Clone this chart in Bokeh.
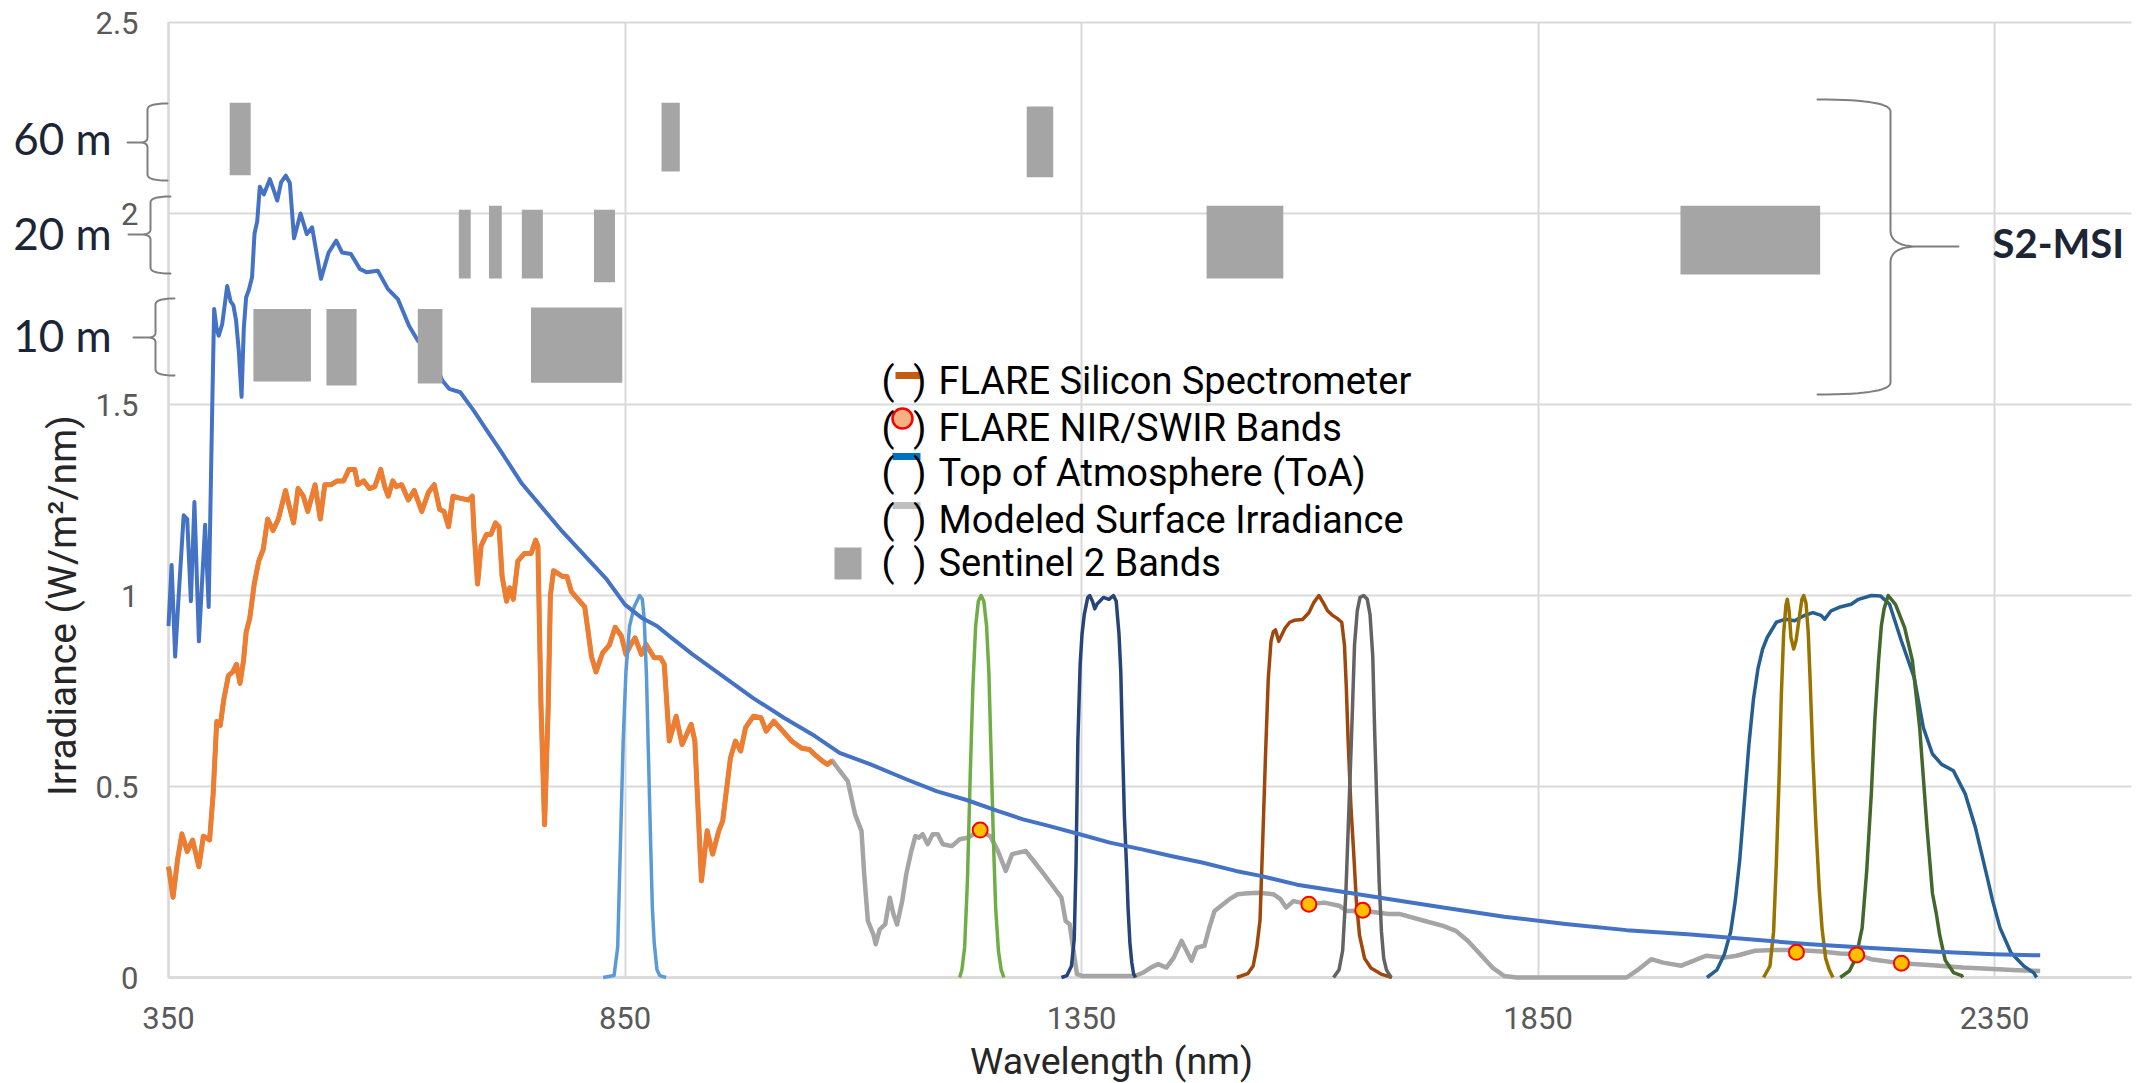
import numpy as np
from bokeh.plotting import figure
from bokeh.models import Range1d, FixedTicker, NumeralTickFormatter, Label, PolyAnnotation, Grid
from bokeh.embed import file_html
from bokeh.resources import INLINE

# ---------------- data ----------------
x_ticks = [350, 850, 1350, 1850, 2350]
y_ticks = [0, 0.5, 1, 1.5, 2, 2.5]

# Top of Atmosphere (ToA) irradiance
toa_nm = [350, 353.4, 357.3, 360.8, 366.6, 370.5, 374.5, 378.4, 383.3, 390.1,
          394, 397.8, 400, 402.6, 405, 408.8, 414.3, 418, 421, 424,
          427, 430, 432.5, 435, 438, 441.5, 444.2, 447.2, 450, 454.4,
          461, 465.4, 469.1, 473.4, 478.5, 482.9, 487.5, 494.6, 501.5, 507.3,
          517, 525.4, 533.7, 540, 549.8, 559.6, 566.9, 579.2, 590.4, 601.2,
          613.4, 623.2, 635.2, 650.1, 657.4, 669.6, 684.3, 699, 713.6, 737,
          781.5, 830, 850, 868, 885, 901, 924, 957, 990, 1024,
          1058, 1085, 1119, 1158, 1191, 1225, 1258, 1286, 1314, 1348,
          1381, 1415, 1448, 1482, 1519, 1546, 1586, 1639, 1679, 1746,
          1813, 1880, 1947, 2014, 2081, 2148, 2215, 2282, 2349, 2400]
toa_val = [0.92, 1.08, 0.84, 0.985, 1.21, 1.20, 0.985, 1.245, 0.88, 1.185,
           0.97, 1.48, 1.75, 1.70, 1.68, 1.71, 1.81, 1.77, 1.76, 1.72,
           1.64, 1.52, 1.70, 1.78, 1.80, 1.833, 1.947, 1.98, 2.07, 2.05,
           2.09, 2.06, 2.034, 2.082, 2.099, 2.08, 1.935, 2.0, 1.946, 1.964,
           1.829, 1.898, 1.929, 1.898, 1.894, 1.855, 1.846, 1.85, 1.802, 1.776,
           1.706, 1.667, 1.641, 1.562, 1.541, 1.532, 1.484, 1.431, 1.379, 1.293,
           1.167, 1.042, 0.976, 0.942, 0.92, 0.889, 0.846, 0.789, 0.732, 0.68,
           0.632, 0.588, 0.558, 0.519, 0.488, 0.464, 0.436, 0.414, 0.397, 0.375,
           0.353, 0.336, 0.318, 0.301, 0.279, 0.266, 0.243, 0.223, 0.208, 0.183,
           0.159, 0.14, 0.124, 0.113, 0.10, 0.087, 0.077, 0.068, 0.061, 0.058]

# FLARE Silicon Spectrometer
si_nm = [350, 355, 360, 364.7, 370.5, 376.4, 383.3, 388.2, 395, 398.9,
         402.8, 406.7, 410.7, 415.6, 420.4, 424.4, 428.3, 432.2, 435.1, 439,
         443.9, 448.8, 453.7, 458.6, 464.5, 470.3, 478.2, 482.1, 487, 491.9,
         497.7, 502.6, 510.5, 516.3, 521.2, 528.1, 534.9, 541.8, 547.6, 554,
         557.4, 563.8, 570.1, 576, 582.4, 586.8, 590.7, 595.6, 599.5, 605.4,
         612.7, 619.1, 627.4, 634.7, 641.1, 647, 651.8, 656.7, 661.6, 669,
         678.7, 682.7, 684.6, 688.5, 692.4, 698.3, 703.2, 708.1, 712, 715.4,
         720.3, 723.7, 727.7, 732.6, 739.9, 747.2, 752.1, 754.6, 758, 761.9,
         765.8, 768.3, 771.7, 781.5, 786.4, 791.3, 798.6, 805.9, 813.3, 818.2,
         825.5, 832.8, 839.2, 846, 851, 856, 861, 868, 873, 882,
         889, 893, 898.5, 906, 912.5, 922.5, 926.5, 933.7, 940, 946,
         952.7, 957, 965.5, 971, 976.7, 982, 990.6, 999, 1004.6, 1013,
         1021, 1032.5, 1043.6, 1052, 1057.6, 1066, 1071.6, 1077]
si_val = [0.29, 0.21, 0.31, 0.376, 0.33, 0.36, 0.29, 0.37, 0.36, 0.48,
          0.67, 0.66, 0.73, 0.79, 0.80, 0.82, 0.77, 0.83, 0.905, 0.94,
          1.03, 1.09, 1.12, 1.20, 1.17, 1.20, 1.275, 1.235, 1.19, 1.28,
          1.26, 1.22, 1.29, 1.20, 1.29, 1.29, 1.30, 1.30, 1.33, 1.33,
          1.29, 1.30, 1.28, 1.285, 1.33, 1.285, 1.26, 1.30, 1.285, 1.29,
          1.25, 1.275, 1.22, 1.27, 1.29, 1.225, 1.22, 1.18, 1.26, 1.255,
          1.25, 1.26, 1.17, 1.03, 1.13, 1.16, 1.16, 1.19, 1.18, 1.05,
          0.985, 1.02, 0.99, 1.09, 1.11, 1.11, 1.145, 1.13, 0.71, 0.40,
          0.70, 1.0, 1.065, 1.05, 1.05, 1.01, 0.99, 0.97, 0.84, 0.80,
          0.85, 0.87, 0.917, 0.894, 0.846, 0.87, 0.889, 0.846, 0.872, 0.837,
          0.837, 0.82, 0.619, 0.684, 0.61, 0.663, 0.619, 0.253, 0.384, 0.323,
          0.384, 0.41, 0.575, 0.619, 0.593, 0.654, 0.684, 0.68, 0.645, 0.671,
          0.65, 0.619, 0.60, 0.597, 0.584, 0.567, 0.558, 0.567]

# Modeled Surface Irradiance beyond the silicon range (below it, it follows the silicon curve)
surf_nm = [1085.5, 1094, 1102, 1109, 1112, 1116, 1122, 1124.6, 1129, 1135,
           1140, 1144, 1148, 1153.6, 1158, 1163.6, 1168, 1172, 1176, 1181.5,
           1187, 1192.6, 1198, 1208, 1216.6, 1225, 1239, 1250, 1258.5, 1267,
           1274, 1281, 1289, 1297.6, 1309, 1320, 1328, 1332.6, 1337, 1345,
           1350.6, 1409, 1417.6, 1426, 1434, 1443, 1451, 1459.5, 1465, 1470.5,
           1476, 1484.6, 1490, 1495.7, 1504, 1512, 1521, 1529, 1543, 1560,
           1568, 1574, 1582, 1599, 1616, 1632, 1641, 1659, 1686, 1699,
           1726, 1746, 1760, 1773, 1786.7, 1800, 1813, 1826.6, 1947, 1960.5,
           1974, 1987, 2007, 2020.7, 2034, 2054, 2067.5, 2087.6, 2107.7, 2133,
           2161, 2181, 2198, 2214.8, 2248, 2282, 2315, 2348.6, 2375, 2400]
surf_val = [0.54, 0.514, 0.427, 0.384, 0.27, 0.148, 0.113, 0.087, 0.126, 0.139,
            0.209, 0.166, 0.139, 0.20, 0.27, 0.331, 0.37, 0.366, 0.375, 0.349,
            0.375, 0.375, 0.349, 0.344, 0.362, 0.366, 0.384, 0.37, 0.331, 0.279,
            0.323, 0.327, 0.331, 0.305, 0.27, 0.235, 0.209, 0.148, 0.139, 0.009,
            0.004, 0.004, 0.013, 0.026, 0.035, 0.026, 0.052, 0.096, 0.07, 0.044,
            0.078, 0.083, 0.131, 0.174, 0.19, 0.205, 0.218, 0.22, 0.222, 0.218,
            0.205, 0.183, 0.20, 0.192, 0.196, 0.188, 0.174, 0.175, 0.166, 0.166,
            0.148, 0.135, 0.122, 0.096, 0.061, 0.026, 0.004, 0.0, 0.0, 0.022,
            0.048, 0.039, 0.031, 0.044, 0.057, 0.052, 0.057, 0.07, 0.072, 0.072,
            0.068, 0.063, 0.061, 0.048, 0.037, 0.032, 0.026, 0.022, 0.019, 0.017]

# FLARE NIR/SWIR band points
flare_nm = [1239, 1599, 1658, 2133, 2199, 2248]
flare_val = [0.386, 0.192, 0.176, 0.066, 0.059, 0.0375]

# normalised band response curves
b865_nm = [826, 838, 842, 845, 848, 851, 855, 860, 866, 869, 871, 873.5, 876, 878, 880, 882, 885, 888, 895]
b865_val = [0, 0.005, 0.08, 0.35, 0.62, 0.8, 0.92, 0.97, 1.0, 0.99, 0.94, 0.79, 0.55, 0.357, 0.18, 0.09, 0.02, 0.005, 0]
b1240_nm = [1216.5, 1219, 1222, 1225, 1228, 1231, 1234, 1237, 1240, 1243, 1246, 1248.5, 1251, 1253.5, 1256, 1259, 1262, 1265]
b1240_val = [0, 0.02, 0.08, 0.25, 0.52, 0.76, 0.92, 0.985, 1.0, 0.985, 0.92, 0.8, 0.58, 0.36, 0.18, 0.07, 0.02, 0]
b1375_nm = [1328, 1334, 1339, 1342, 1344, 1346, 1348.5, 1350.6, 1353, 1356.8,
            1359, 1362, 1364.5, 1367, 1370, 1374, 1380, 1385, 1388, 1391,
            1393, 1395, 1397, 1399.5, 1401, 1403, 1405, 1407, 1409]
b1375_val = [0, 0.005, 0.03, 0.1, 0.3, 0.62, 0.82, 0.9, 0.95, 0.995,
             1.0, 0.985, 0.965, 0.978, 0.985, 0.995, 0.99, 1.0, 0.985, 0.9,
             0.8, 0.6, 0.42, 0.28, 0.18, 0.09, 0.04, 0.01, 0]
b1610_nm = [1520, 1532, 1538, 1542, 1545.5, 1548.5, 1551.5, 1554.5, 1557.5, 1560,
            1562.5, 1566, 1569, 1573, 1578, 1583, 1592, 1599, 1604, 1610,
            1615, 1619.5, 1625, 1630, 1635, 1638, 1640, 1642, 1645, 1648,
            1651, 1654.5, 1660, 1667, 1678, 1690]
b1610_val = [0, 0.01, 0.03, 0.08, 0.15, 0.36, 0.58, 0.78, 0.88, 0.905,
             0.91, 0.88, 0.895, 0.915, 0.93, 0.935, 0.937, 0.955, 0.98, 1.0,
             0.98, 0.96, 0.948, 0.94, 0.93, 0.87, 0.76, 0.62, 0.45, 0.33,
             0.2, 0.11, 0.05, 0.025, 0.009, 0]
b1660_nm = [1626, 1632, 1636, 1639.5, 1643, 1646, 1649, 1652, 1655, 1659,
            1663, 1666, 1669, 1671, 1673.5, 1676, 1678.5, 1681, 1684, 1689]
b1660_val = [0, 0.02, 0.07, 0.22, 0.45, 0.65, 0.87, 0.96, 0.995, 1.0,
             0.99, 0.95, 0.84, 0.65, 0.45, 0.25, 0.12, 0.05, 0.02, 0]
b2200_nm = [2035, 2046, 2054, 2061, 2066, 2071, 2076, 2081, 2086, 2091,
            2096, 2101, 2111, 2121, 2131, 2141, 2151, 2160, 2164, 2171,
            2181, 2193, 2201, 2215, 2225, 2235, 2248, 2262, 2272, 2282,
            2292, 2305, 2318, 2329, 2342, 2348, 2356, 2368, 2382, 2393, 2396]
b2200_val = [0, 0.02, 0.06, 0.12, 0.2, 0.31, 0.46, 0.61, 0.73, 0.81,
             0.86, 0.89, 0.93, 0.938, 0.934, 0.947, 0.955, 0.948, 0.938, 0.96,
             0.97, 0.977, 0.99, 1.0, 0.999, 0.977, 0.881, 0.785, 0.654, 0.585,
             0.558, 0.541, 0.48, 0.393, 0.262, 0.2, 0.13, 0.065, 0.03, 0.012, 0]
b2130_nm = [2097, 2104, 2108, 2111, 2114, 2116.5, 2119, 2121.5, 2123, 2125,
            2127, 2130, 2132.5, 2136, 2139, 2141, 2143.5, 2146, 2148, 2151,
            2154.5, 2158, 2161, 2165, 2169, 2173]
b2130_val = [0, 0.03, 0.12, 0.3, 0.52, 0.74, 0.9, 0.975, 0.99, 0.96,
             0.89, 0.86, 0.88, 0.94, 0.99, 1.0, 0.98, 0.9, 0.78, 0.58,
             0.39, 0.23, 0.13, 0.05, 0.02, 0]
b2230_nm = [2181, 2191, 2198, 2205, 2210, 2215, 2219, 2223, 2226, 2229,
            2233.5, 2241.5, 2251.5, 2260, 2268, 2276, 2282, 2286, 2290, 2296,
            2305, 2314, 2315]
b2230_val = [0, 0.017, 0.05, 0.13, 0.28, 0.48, 0.68, 0.83, 0.92, 0.965,
             1.0, 0.977, 0.916, 0.83, 0.654, 0.393, 0.22, 0.17, 0.11, 0.045,
             0.013, 0.005, 0]

# Sentinel-2 MSI bands (wavelength extent, drawn in the 10/20/60 m rows)
s2_band = ["B1", "B2", "B3", "B4", "B5", "B6", "B7", "B8", "B8A", "B9", "B10", "B11", "B12"]
s2_left = [417, 443, 523, 623, 668, 701, 737, 747, 816, 890, 1290, 1487, 2006]
s2_right = [440, 506, 556, 650, 681, 715, 760, 847, 839, 910, 1319, 1571, 2159]
s2_bottom = [2.10, 1.56, 1.55, 1.555, 1.83, 1.83, 1.83, 1.557, 1.82, 2.11, 2.095, 1.83, 1.84]
s2_top = [2.29, 1.75, 1.75, 1.75, 2.01, 2.02, 2.01, 1.754, 2.01, 2.29, 2.28, 2.02, 2.02]

legend_labels = ["FLARE Silicon Spectrometer", "FLARE NIR/SWIR Bands",
                 "Top of Atmosphere (ToA)", "Modeled Surface Irradiance", "Sentinel 2 Bands"]
res_labels = ["60 m", "20 m", "10 m"]

# ---------------- layout ----------------
W, H = 2156, 1083
AX_L, AX_R, AX_T, AX_B = 168, 2131, 22, 977      # pixel box of the plotting area
X0, X1 = 350, 2500
Y0, Y1 = 0, 2.5
kx = (X1 - X0) / (AX_R - AX_L)
ky = (Y1 - Y0) / (AX_B - AX_T)
XS, XE = X0 - AX_L * kx, X1 + (W - AX_R) * kx
YS, YE = Y0 - (H - AX_B) * ky, Y1 + AX_T * ky


def px2x(px):
    return XS + px * kx


def py2y(py):
    return YE - py * ky


p = figure(width=W, height=H, x_range=Range1d(XS, XE), y_range=Range1d(YS, YE),
           output_backend="svg", toolbar_location=None,
           min_border_left=0, min_border_right=0, min_border_top=0, min_border_bottom=0)
p.outline_line_color = None
p.background_fill_color = "white"
p.border_fill_color = "white"

xa = p.xaxis[0]
xa.fixed_location = 0
xa.bounds = (X0, X1)
xa.ticker = FixedTicker(ticks=x_ticks)
xa.axis_line_color = "#bfbfbf"
xa.axis_line_width = 2
xa.major_tick_line_color = None
xa.minor_tick_line_color = None
xa.major_tick_out = 0
xa.major_tick_in = 0
xa.major_label_text_font = "Roboto"
xa.major_label_text_font_size = "31px"
xa.major_label_text_color = "#595959"
xa.major_label_standoff = 29
xa.level = "underlay"

ya = p.yaxis[0]
ya.fixed_location = X0
ya.bounds = (Y0, Y1)
ya.ticker = FixedTicker(ticks=y_ticks)
ya.formatter = NumeralTickFormatter(format="0.[0]")
ya.axis_line_color = "#d0d0d0"
ya.axis_line_width = 2
ya.major_tick_line_color = None
ya.minor_tick_line_color = None
ya.major_tick_out = 0
ya.major_tick_in = 0
ya.major_label_text_font = "Roboto"
ya.major_label_text_font_size = "31px"
ya.major_label_text_color = "#595959"
ya.major_label_standoff = 30
ya.level = "underlay"

GRID_COLOR = "#d9d9d9"
if "cross_bounds" in Grid.properties():
    p.xgrid.ticker = FixedTicker(ticks=x_ticks)
    p.ygrid.ticker = FixedTicker(ticks=y_ticks)
    p.xgrid.cross_bounds = (Y0, Y1)
    p.ygrid.cross_bounds = (X0, X1)
    for g in (p.xgrid[0], p.ygrid[0]):
        g.grid_line_color = GRID_COLOR
        g.grid_line_width = 2
else:
    p.xgrid.visible = False
    p.ygrid.visible = False
    p.segment(x0=x_ticks, y0=[Y0] * len(x_ticks), x1=x_ticks, y1=[Y1] * len(x_ticks),
              line_color=GRID_COLOR, line_width=2, level="underlay")
    p.segment(x0=[X0] * len(y_ticks), y0=y_ticks, x1=[X1] * len(y_ticks), y1=y_ticks,
              line_color=GRID_COLOR, line_width=2, level="underlay")

# ---------------- series ----------------
p.line(si_nm + surf_nm, si_val + surf_val, line_color="#a5a5a5", line_width=4.5, line_join="round")
p.line(si_nm, si_val, line_color="#ed7d31", line_width=5, line_join="round")

band_series = [(b865_nm, b865_val, "#5b9bd5"), (b1240_nm, b1240_val, "#70ad47"),
               (b1375_nm, b1375_val, "#264478"), (b1610_nm, b1610_val, "#9e480e"),
               (b1660_nm, b1660_val, "#636363"), (b2200_nm, b2200_val, "#255e91"),
               (b2130_nm, b2130_val, "#997300"), (b2230_nm, b2230_val, "#43682b")]
for bx, by, bc in band_series:
    p.line(bx, by, line_color=bc, line_width=3.5, line_join="round")

p.line(toa_nm, toa_val, line_color="#4472c4", line_width=4, line_join="round")

p.scatter(flare_nm, flare_val, size=15, fill_color="#ffc000", line_color="#ff0000", line_width=2)

p.quad(left=s2_left, right=s2_right, bottom=s2_bottom, top=s2_top,
       fill_color="#a5a5a5", line_color=None)


# ---------------- braces ----------------
def brace_px(end_x, spine_x, tip_x, y_top, y_mid, y_bot, r_end, r_mid, cusp_w, n=16):
    t = np.linspace(0, 1, n)

    def qb(a, c, b):
        return ((1 - t) ** 2 * a[0] + 2 * (1 - t) * t * c[0] + t ** 2 * b[0],
                (1 - t) ** 2 * a[1] + 2 * (1 - t) * t * c[1] + t ** 2 * b[1])
    s = np.sign(tip_x - spine_x)
    cx = spine_x + s * cusp_w
    segs = [qb((end_x, y_top), (spine_x, y_top), (spine_x, y_top + r_end)),
            qb((spine_x, y_mid - r_mid), (spine_x, y_mid), (cx, y_mid)),
            (np.array([tip_x, cx]), np.array([y_mid, y_mid])),
            qb((cx, y_mid), (spine_x, y_mid), (spine_x, y_mid + r_mid)),
            qb((spine_x, y_bot - r_end), (spine_x, y_bot), (end_x, y_bot))]
    xs = np.concatenate([sg[0] for sg in segs])
    ys = np.concatenate([sg[1] for sg in segs])
    xs = np.concatenate([xs, xs[-2:0:-1]])
    ys = np.concatenate([ys, ys[-2:0:-1]])
    return [px2x(v) for v in xs], [py2y(v) for v in ys]


brace_specs = [(167, 147, 127, 103, 142, 180, 6, 5, 8),
               (170, 150, 128, 196, 234, 273, 6, 5, 10),
               (174, 155, 133, 298, 337, 375, 6, 5, 8),
               (1817, 1890, 1958, 99, 246, 394, 12, 16, 28)]
for spec in brace_specs:
    bx, by = brace_px(*spec)
    p.add_layout(PolyAnnotation(xs=bx, ys=by, xs_units="data", ys_units="data",
                                fill_color=None, fill_alpha=0, line_color="#7f7f7f",
                                line_alpha=1.0, line_width=2, line_join="round"))


def lab(px, py, text, font, size, color, align="left", baseline="middle",
        style="normal", angle=0.0):
    p.add_layout(Label(x=px2x(px), y=py2y(py), text=text, text_font=font,
                       text_font_size=f"{size}px", text_color=color, text_align=align,
                       text_baseline=baseline, text_font_style=style, angle=angle))


for txt, cy in zip(res_labels, [137, 232, 334]):
    lab(62, cy, txt, "Lato", 44, "#1c2536", align="center")
lab(1992, 242, "S2-MSI", "Lato", 40, "#1c2536", style="bold")

# axis titles
lab(62, 605, "Irradiance (W/m\u00b2/nm)", "Roboto", 39, "#262626", align="center", angle=np.pi / 2)
lab(1111, 1060, "Wavelength (nm)", "Roboto", 37.5, "#262626", align="center")

# ---------------- legend ----------------
leg_cy = [380.5, 427, 472.5, 519, 562.5]
for txt, cy in zip(legend_labels, leg_cy):
    lab(938, cy, txt, "Roboto", 38, "#000000")
    lab(881, cy, "(", "Roboto", 38, "#000000")
    lab(926, cy, ")", "Roboto", 38, "#000000", align="right")

p.segment(x0=[px2x(895)], y0=[py2y(375)], x1=[px2x(921)], y1=[py2y(375)],
          line_color="#c55a11", line_width=7, line_cap="butt")
p.scatter([px2x(902)], [py2y(418)], size=20, fill_color="#f4b183", line_color="#ff0000", line_width=2.5)
p.segment(x0=[px2x(892)], y0=[py2y(456)], x1=[px2x(920)], y1=[py2y(456)],
          line_color="#0070c0", line_width=7, line_cap="butt")
p.segment(x0=[px2x(892)], y0=[py2y(505)], x1=[px2x(920)], y1=[py2y(505)],
          line_color="#bfbfbf", line_width=7, line_cap="butt")
p.quad(left=[px2x(834)], right=[px2x(861)], top=[py2y(547)], bottom=[py2y(579)],
       fill_color="#a6a6a6", line_color=None)

open("out.html", "w").write(file_html(p, INLINE))
